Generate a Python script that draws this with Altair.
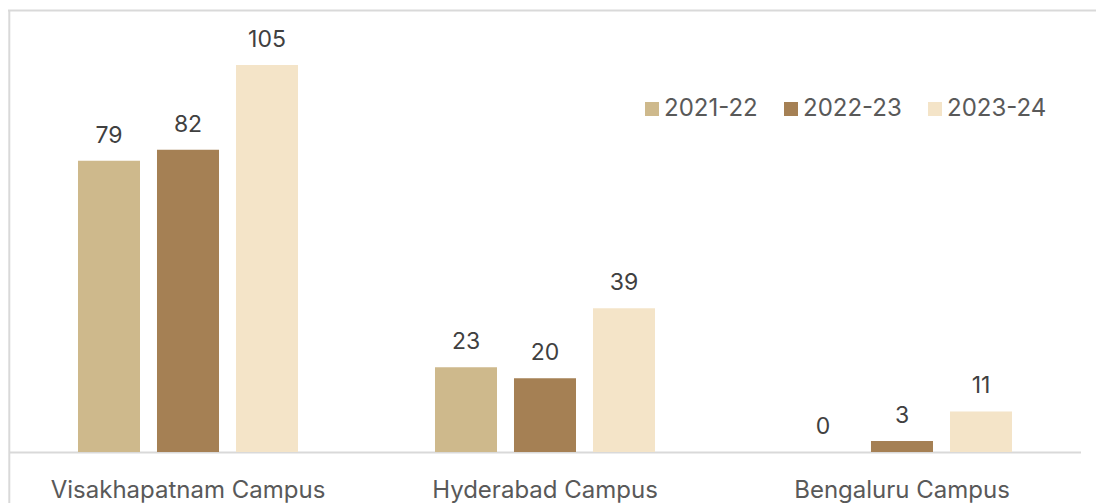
import altair as alt
import pandas as pd

campuses = ["Visakhapatnam Campus", "Hyderabad Campus", "Bengaluru Campus"]
years = ["2021-22", "2022-23", "2023-24"]
values_2021_22 = [79, 23, 0]
values_2022_23 = [82, 20, 3]
values_2023_24 = [105, 39, 11]
colors = ["#CEB98C", "#A58054", "#F4E4C8"]

rows = []
for i, c in enumerate(campuses):
    for yr, vals in zip(years, [values_2021_22, values_2022_23, values_2023_24]):
        rows.append({"campus": c, "year": yr, "value": vals[i]})
df = pd.DataFrame(rows)

FONT = "Inter"

x = alt.X(
    "campus:N",
    sort=campuses,
    scale=alt.Scale(paddingInner=0, paddingOuter=0),
    axis=alt.Axis(
        title=None, labelAngle=0, labelFontSize=24, labelColor="#595959",
        labelFont=FONT, ticks=False, domainColor="#D9D9D9", domainWidth=2,
        labelPadding=26, labelLimit=0,
    ),
)
xo = alt.XOffset("year:N", sort=years, scale=alt.Scale(paddingInner=0.215, paddingOuter=0.867))
y = alt.Y("value:Q", scale=alt.Scale(domain=[0, 114.5], nice=False, zero=True), axis=None)

color = alt.Color(
    "year:N",
    sort=years,
    scale=alt.Scale(domain=years, range=colors),
    legend=alt.Legend(
        orient="none", legendX=630.5, legendY=67, direction="horizontal",
        title=None, symbolType="square", symbolSize=196, symbolStrokeWidth=0,
        labelFontSize=24, labelColor="#595959", labelFont=FONT,
        columnPadding=21, labelOffset=0, labelLimit=0,
    ),
)

base = alt.Chart(df)
bars = base.mark_bar().encode(x=x, xOffset=xo, y=y, color=color)
labels = base.mark_text(dy=-18, baseline="alphabetic", fontSize=23, color="#404040", font=FONT).encode(
    x=x, xOffset=xo, y=y, text=alt.Text("value:Q")
)

frame_df = pd.DataFrame({"k": [0]})
top_line = alt.Chart(frame_df).mark_rule(color="#D9D9D9", strokeWidth=2).encode(
    x=alt.value(-1.5), x2=alt.value(1090), y=alt.value(-19.5)
)
left_line = alt.Chart(frame_df).mark_rule(color="#D9D9D9", strokeWidth=2).encode(
    x=alt.value(-0.2), y=alt.value(-19.5), y2=alt.value(480)
)

chart = alt.layer(top_line, left_line, bars, labels).properties(
    width=1071, height=422, autosize="none",
    padding={"left": 1.5, "top": 22, "right": 15, "bottom": 51},
    background="white",
).configure_view(stroke=None)

chart.save("out.html", embed_options={"renderer": "svg", "actions": False})
